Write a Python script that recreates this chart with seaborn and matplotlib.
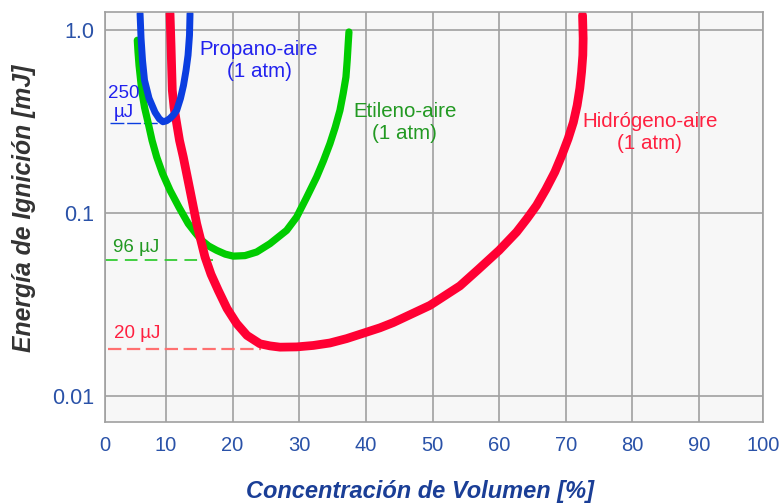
import pandas as pd
import seaborn as sns
from matplotlib import pyplot as plt

# curves (volume %, ignition energy in mJ)
propano_x = [6.11, 6.26, 6.48, 6.78, 7.46, 8.36, 9.0, 9.55, 10.08, 10.61, 11.13, 11.61, 12.18, 12.63, 13.01,
             13.31, 13.53, 13.61]
propano_y = [1.234, 0.904, 0.685, 0.533, 0.4246, 0.356, 0.328, 0.316, 0.320, 0.330, 0.345, 0.365, 0.4246,
             0.500, 0.604, 0.730, 0.939, 1.234]

etileno_x = [5.70, 5.81, 5.96, 6.36, 6.78, 7.35, 7.91, 8.61, 9.48, 10.61, 11.96, 13.35, 14.36, 15.36, 16.38,
             17.61, 18.89, 20.10, 21.86, 23.61, 25.61, 28.11, 29.61, 31.08, 32.61, 33.63, 34.61, 35.40,
             36.11, 36.60, 37.01, 37.20, 37.35, 37.46]
etileno_y = [0.882, 0.758, 0.643, 0.470, 0.379, 0.309, 0.250, 0.2027, 0.165, 0.1333, 0.1076, 0.0876, 0.0785,
             0.0710, 0.0662, 0.0626, 0.0597, 0.0582, 0.0586, 0.0613, 0.0681, 0.0805, 0.0952, 0.1213,
             0.1576, 0.1932, 0.240, 0.2946, 0.365, 0.452, 0.555, 0.685, 0.846, 0.979]

hidrogeno_x = [10.61, 10.76, 10.85, 10.95, 11.21, 11.61, 12.03, 12.60, 13.61, 14.61, 15.86, 16.76, 17.85,
               19.16, 20.61, 22.16, 24.11, 25.61, 27.11, 29.61, 32.10, 34.61, 37.11, 42.11, 44.10, 49.61,
               54.11, 56.89, 60.0, 62.62, 64.16, 65.62, 67.01, 68.36, 69.41, 70.36, 71.14, 71.71, 72.11,
               72.37, 72.56, 72.61, 72.52]
hidrogeno_y = [1.234, 0.828, 0.6276, 0.470, 0.379, 0.309, 0.250, 0.2027, 0.1333, 0.0876, 0.0575, 0.0463,
               0.0378, 0.0301, 0.0249, 0.02145, 0.0193, 0.0188, 0.0185, 0.01856, 0.0189, 0.0195, 0.0206,
               0.0236, 0.0252, 0.0313, 0.0400, 0.0493, 0.0626, 0.0788, 0.0931, 0.1103, 0.1349, 0.1678,
               0.2071, 0.2556, 0.3139, 0.389, 0.4817, 0.591, 0.730, 0.901, 1.208]

# minimum ignition energy levels (mJ)
min_propano = 0.313
min_etileno = 0.0557
min_hidrogeno = 0.01815

x_ticks = [0.85, 10, 20, 30, 40, 50, 60, 70, 80, 90, 99.6]
x_ticklabels = ["0", "10", "20", "30", "40", "50", "60", "70", "80", "90", "100"]
y_ticks = [0.01, 0.1, 1.0]
y_ticklabels = ["0.01", "0.1", "1.0"]

sns.set_theme(style="whitegrid")
plt.rcParams["font.family"] = ["Liberation Sans", "DejaVu Sans"]

BLUE = "#0b3ee0"
GREEN = "#00cc00"
RED = "#ff0033"
TICK = "#2a52a8"

fig = plt.figure(figsize=(7.82, 5.04), dpi=100)
ax = fig.add_axes([105 / 782, 1 - 422 / 504, (763 - 105) / 782, (422 - 12) / 504])
ax.set_facecolor("#f7f7f7")
ax.set_yscale("log")

df_h = pd.DataFrame({"x": hidrogeno_x, "y": hidrogeno_y})
df_e = pd.DataFrame({"x": etileno_x, "y": etileno_y})
df_p = pd.DataFrame({"x": propano_x, "y": propano_y})

# dashed reference levels
ax.plot([0.85, 17.1], [min_etileno, min_etileno], color="#33cc33", lw=1.3, ls=(0, (7, 4)))
ax.plot([1.3, 24.3], [min_hidrogeno, min_hidrogeno], color="#ff7070", lw=1.6, ls=(0, (6, 2.5)))
ax.plot([1.6, 9.0], [min_propano, min_propano], color=BLUE, lw=1.0, ls=(0, (10, 2)))

line_kw = dict(sort=False, estimator=None, solid_capstyle="round", solid_joinstyle="round")
sns.lineplot(data=df_e, x="x", y="y", ax=ax, color=GREEN, lw=5.2, **line_kw)
sns.lineplot(data=df_h, x="x", y="y", ax=ax, color=RED, lw=6.3, **line_kw)
sns.lineplot(data=df_p, x="x", y="y", ax=ax, color=BLUE, lw=5.0, **line_kw)

ax.set_xlim(0.85, 99.6)
ax.set_ylim(0.00721, 1.259)
ax.set_xticks(x_ticks)
ax.set_xticklabels(x_ticklabels)
ax.set_yticks(y_ticks)
ax.set_yticklabels(y_ticklabels)
ax.minorticks_off()
ax.tick_params(axis="x", colors=TICK, labelsize=14.5, length=0, pad=10)
ax.tick_params(axis="y", colors=TICK, labelsize=15.5, length=0, pad=8)
ax.grid(True, color="#a0a0a0", lw=1.2)
for s in ax.spines.values():
    s.set_color("#a0a0a0")
    s.set_linewidth(1.2)

# curve labels
ax.text(23.96, 0.685, "Propano-aire\n(1 atm)", color="#2222ee", fontsize=14.8, ha="center", va="center",
        linespacing=1.2)
ax.text(45.86, 0.314, "Etileno-aire\n(1 atm)", color="#229922", fontsize=14.8, ha="center", va="center",
        linespacing=1.2)
ax.text(82.6, 0.277, "Hidrógeno-aire\n(1 atm)", color="#ff2040", fontsize=14.8, ha="center", va="center",
        linespacing=1.2)

# minimum energy labels
ax.text(3.7, 0.401, "250\nµJ", color="#2222ee", fontsize=13.5, ha="center", va="center", linespacing=1.1)
ax.text(5.5, 0.065, "96 µJ", color="#229922", fontsize=13.5, ha="center", va="center")
ax.text(5.73, 0.022, "20 µJ", color="#ff2040", fontsize=13.5, ha="center", va="center")

ax.set_xlabel("Concentración de Volumen [%]", fontsize=17, fontweight="bold", fontstyle="italic",
              color="#1a3e96")
ax.set_ylabel("Energía de Ignición [mJ]", fontsize=17.8, fontweight="bold", fontstyle="italic",
              color="#333333")
ax.xaxis.set_label_coords(0.479, -0.141)
ax.yaxis.set_label_coords(-0.105, 0.521)

fig.savefig("out.png", dpi=100, facecolor="white")
